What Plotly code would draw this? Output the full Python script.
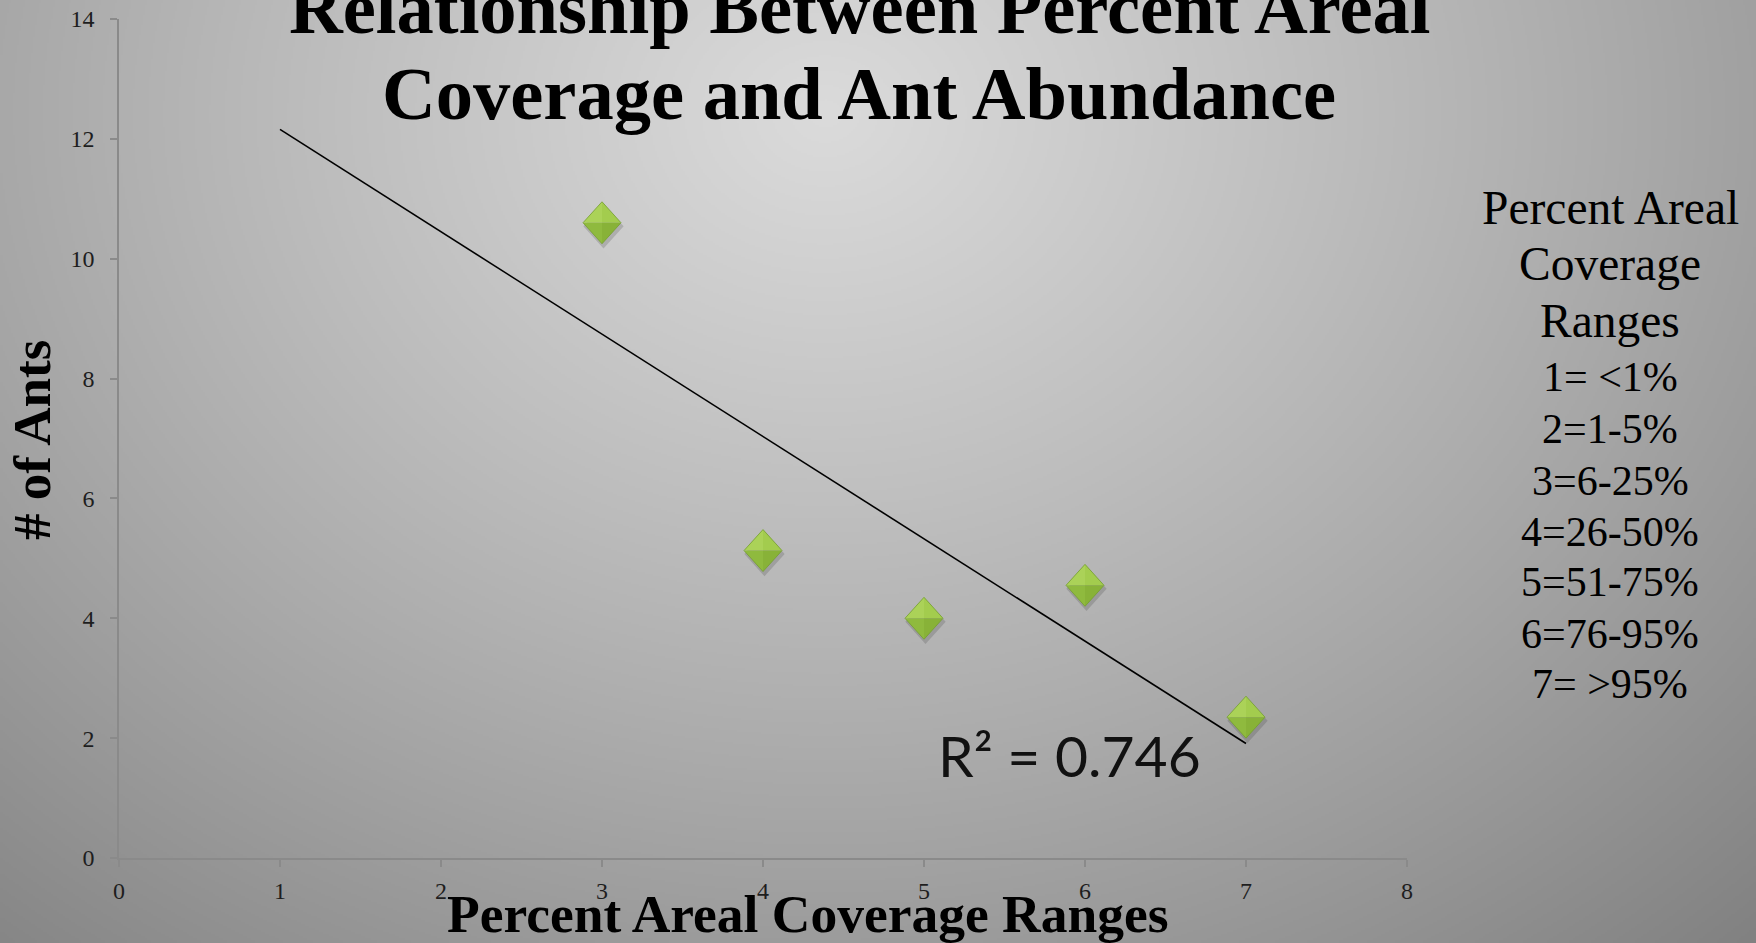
import base64
import struct
import zlib

import numpy as np
import plotly.graph_objects as go

# ---- data -------------------------------------------------------------
coverage_range = [3, 4, 5, 6, 7]
ant_count = [10.6, 5.13, 4.0, 4.55, 2.35]
trend_extent = [1, 7]
r2_label = "R² = 0.746"

x_ticks = [0, 1, 2, 3, 4, 5, 6, 7, 8]
y_ticks = [0, 2, 4, 6, 8, 10, 12, 14]

title_lines = ["Relationship Between Percent Areal", "Coverage and Ant Abundance"]
key_header = ["Percent Areal", "Coverage", "Ranges"]
key_ranges = ["1= <1%", "2=1-5%", "3=6-25%", "4=26-50%", "5=51-75%", "6=76-95%", "7= >95%"]

# ---- page geometry ----------------------------------------------------
W, H = 1756, 943
L, R, T, B = 119, 349, 19, 85
PW, PH = W - L - R, H - T - B
X_RANGE, Y_RANGE = (0, 8), (0, 14)


def px_x(p):
    return (p - L) / PW


def px_y(p):
    return 1 - (p - T) / PH


# ---- radial grey backdrop as an embedded PNG --------------------------
def gray_png(arr):
    h, w = arr.shape
    raw = b"".join(b"\x00" + row.tobytes() for row in arr)

    def chunk(tag, data):
        return (struct.pack(">I", len(data)) + tag + data
                + struct.pack(">I", zlib.crc32(tag + data) & 0xFFFFFFFF))

    return (b"\x89PNG\r\n\x1a\n"
            + chunk(b"IHDR", struct.pack(">IIBBBBB", w, h, 8, 0, 0, 0, 0))
            + chunk(b"IDAT", zlib.compress(raw, 9))
            + chunk(b"IEND", b""))


gw, gh = W // 2, H // 2
gx, gy = np.meshgrid(np.linspace(0, 1, gw), np.linspace(0, 1, gh))
drop = np.sqrt(((gx - 0.47) * 97) ** 2 + ((gy - 0.12) * 63) ** 2)
shade = np.clip(219 - drop * (1 + drop / 400), 0, 255).astype(np.uint8)
bg_uri = "data:image/png;base64," + base64.b64encode(gray_png(shade)).decode()

fig = go.Figure()

# ---- least-squares trend line -----------------------------------------
slope, intercept = np.polyfit(coverage_range, ant_count, 1)
tx = np.array(trend_extent, dtype=float)
fig.add_trace(go.Scatter(x=tx, y=slope * tx + intercept, mode="lines",
                         line=dict(color="black", width=1.6),
                         hoverinfo="skip", showlegend=False))

# ---- bevelled green diamonds ------------------------------------------
hw = 19 / (PW / (X_RANGE[1] - X_RANGE[0]))   # half width in x units
hh = 21 / (PH / (Y_RANGE[1] - Y_RANGE[0]))   # half height in y units


def facet_trace(corners, color, line=None):
    xs, ys = [], []
    for cx, cy in zip(coverage_range, ant_count):
        for dx, dy in corners:
            xs.append(cx + dx * hw)
            ys.append(cy + dy * hh)
        xs.append(None)
        ys.append(None)
    return go.Scatter(x=xs, y=ys, mode="lines", fill="toself", fillcolor=color,
                      line=dict(width=line[1] if line else 0,
                                color=line[0] if line else color),
                      hoverinfo="skip", showlegend=False)


sx, sy = 1.5 / 19, -3.5 / 21
fig.add_trace(facet_trace([(0 + sx, 1.06 + sy), (1.06 + sx, sy), (sx, -1.06 + sy),
                           (-1.06 + sx, sy), (sx, 1.06 + sy)], "rgba(40,40,40,0.18)"))
fig.add_trace(facet_trace([(0, 1), (-1, 0), (0, 0), (0, 1)], "#abd258"))
fig.add_trace(facet_trace([(0, 1), (0, 0), (1, 0), (0, 1)], "#a3cc4e"))
fig.add_trace(facet_trace([(-1, 0), (0, -1), (0, 0), (-1, 0)], "#8fba3e"))
fig.add_trace(facet_trace([(0, 0), (0, -1), (1, 0), (0, 0)], "#88b238"))
fig.add_trace(facet_trace([(0, 1), (1, 0), (0, -1), (-1, 0), (0, 1)],
                          "rgba(0,0,0,0)", line=("#739e2e", 0.8)))

# ---- text -------------------------------------------------------------
SERIF = "Liberation Serif"
annotations = []


def add_text(text, x, baseline, size, family=SERIF, weight="normal", angle=0,
             ascent=0.891, descent=0.216, color="black"):
    mid = baseline - ascent * size + (ascent + descent) * size / 2
    annotations.append(dict(
        text=text, xref="paper", yref="paper", x=px_x(x), y=px_y(mid),
        xanchor="center", yanchor="middle", showarrow=False, textangle=angle,
        font=dict(family=family, size=size, weight=weight, color=color)))


add_text(title_lines[0], 859, 33, 74.5, weight="bold")
add_text(title_lines[1], 859, 119, 74.5, weight="bold")
add_text("Percent Areal Coverage Ranges", 808, 932, 53.5, weight="bold")
annotations.append(dict(
    text="# of Ants", xref="paper", yref="paper", x=px_x(32), y=px_y(440),
    xanchor="center", yanchor="middle", showarrow=False, textangle=-90,
    font=dict(family=SERIF, size=53, weight="bold", color="black")))
add_text(r2_label, 1069, 777, 57, family="Lato", ascent=0.987, descent=0.213,
         color="#111111")

for line, base in zip(key_header, [224, 280, 337]):
    add_text(line, 1610, base, 47.5)
for line, base in zip(key_ranges, [391, 443, 495, 546, 596, 648, 698]):
    add_text(line, 1610, base, 42)

axis_common = dict(
    showgrid=False, zeroline=False, showline=True, linecolor="#8a8a8a",
    linewidth=1.5, ticks="outside", ticklen=7, tickwidth=1.5,
    tickcolor="#8a8a8a", tickfont=dict(family=SERIF, size=24, color="#1e1e1e"),
    fixedrange=True, automargin=False,
)

fig.update_layout(
    width=W, height=H, autosize=False,
    margin=dict(l=L, r=R, t=T, b=B, pad=0),
    paper_bgcolor="#a8a8a8", plot_bgcolor="rgba(0,0,0,0)",
    showlegend=False,
    xaxis=dict(range=list(X_RANGE), tickvals=x_ticks, ticktext=[str(v) for v in x_ticks],
               ticklabelstandoff=3, **axis_common),
    yaxis=dict(range=list(Y_RANGE), tickvals=y_ticks, ticktext=[str(v) for v in y_ticks],
               ticklabelstandoff=11, **axis_common),
    annotations=annotations,
    images=[dict(source=bg_uri, xref="paper", yref="paper",
                 x=px_x(0), y=px_y(0), sizex=W / PW, sizey=H / PH,
                 xanchor="left", yanchor="top", sizing="stretch", layer="below")],
)

fig.write_html("out.html")
